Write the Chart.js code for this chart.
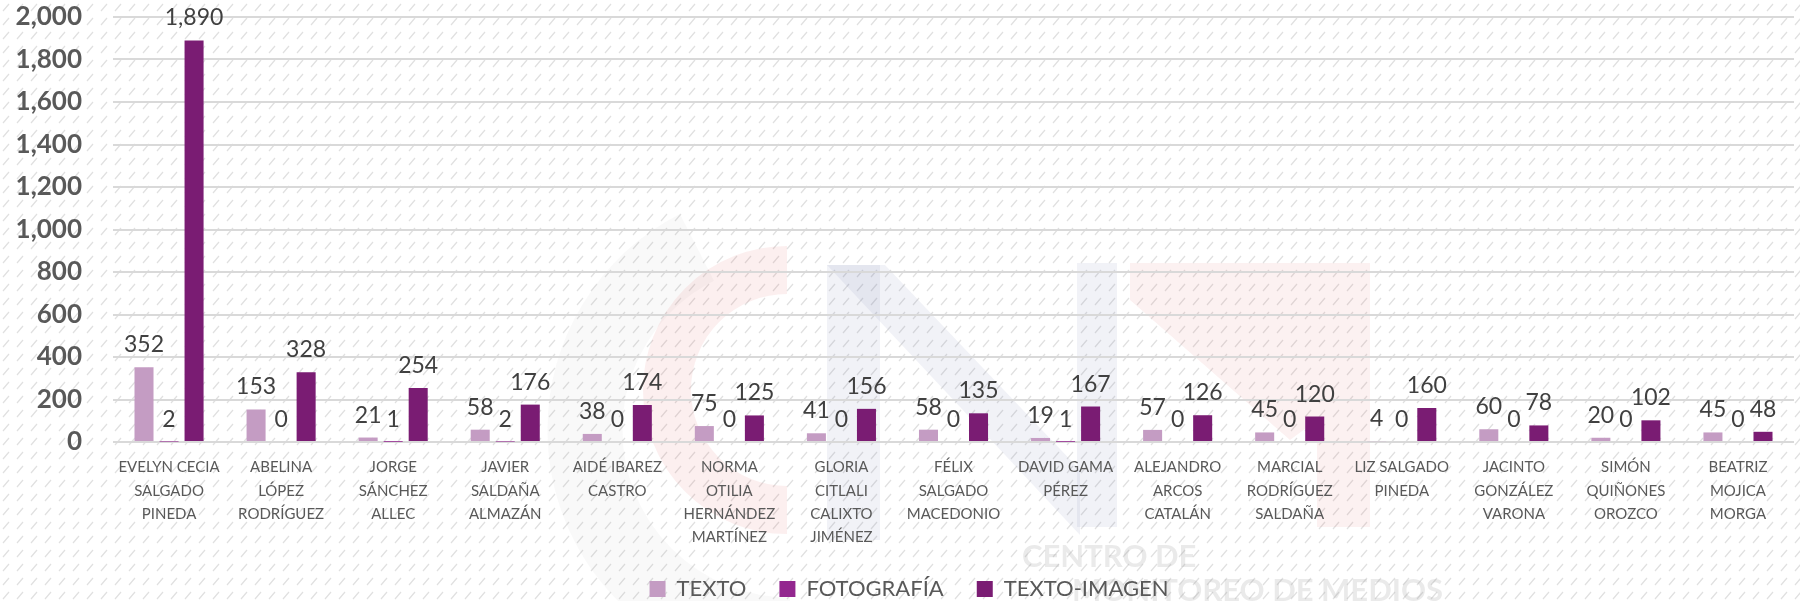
<!DOCTYPE html>
<html>
<head>
<meta charset="utf-8">
<script src="https://cdn.jsdelivr.net/npm/chart.js@4.4.1/dist/chart.umd.min.js"></script>
<style>
html,body{margin:0;padding:0;background:#fff;}
#wrap{width:1800px;height:601px;position:relative;}
</style>
</head>
<body>
<div id="wrap"><canvas id="c" width="1800" height="601"></canvas></div>
<script>
const categories = [
  ["EVELYN CECIA","SALGADO","PINEDA"],
  ["ABELINA","LÓPEZ","RODRÍGUEZ"],
  ["JORGE","SÁNCHEZ","ALLEC"],
  ["JAVIER","SALDAÑA","ALMAZÁN"],
  ["AIDÉ IBAREZ","CASTRO"],
  ["NORMA","OTILIA","HERNÁNDEZ","MARTÍNEZ"],
  ["GLORIA","CITLALI","CALIXTO","JIMÉNEZ"],
  ["FÉLIX","SALGADO","MACEDONIO"],
  ["DAVID GAMA","PÉREZ"],
  ["ALEJANDRO","ARCOS","CATALÁN"],
  ["MARCIAL","RODRÍGUEZ","SALDAÑA"],
  ["LIZ SALGADO","PINEDA"],
  ["JACINTO","GONZÁLEZ","VARONA"],
  ["SIMÓN","QUIÑONES","OROZCO"],
  ["BEATRIZ","MOJICA","MORGA"]
];
const seriesNames = ["TEXTO","FOTOGRAFÍA","TEXTO-IMAGEN"];
const texto = [352,153,21,58,38,75,41,58,19,57,45,4,60,20,45];
const fotografia = [2,0,1,2,0,0,0,0,1,0,0,0,0,0,0];
const textoImagen = [1890,328,254,176,174,125,156,135,167,126,120,160,78,102,48];
const yTicks = [0,200,400,600,800,1000,1200,1400,1600,1800,2000];
const watermarkLines = ["CENTRO DE","MONITOREO DE MEDIOS"];

const colors = ["#C49CC3","#93278F","#7A1C73"];
const FONT = "Lato, 'Open Sans', sans-serif";

function makeHatch(){
  const t = document.createElement('canvas');
  t.width = 14; t.height = 14;
  const g = t.getContext('2d');
  g.fillStyle = '#ffffff'; g.fillRect(0,0,14,14);
  g.strokeStyle = '#e0e0e0'; g.lineWidth = 1.2;
  g.beginPath(); g.moveTo(3,11); g.lineTo(9,4); g.stroke();
  return t;
}

function poly(ctx, pts){
  ctx.beginPath(); ctx.moveTo(pts[0][0],pts[0][1]);
  for (let i=1;i<pts.length;i++) ctx.lineTo(pts[i][0],pts[i][1]);
  ctx.closePath(); ctx.fill();
}

const bgPlugin = {
  id:'bg',
  afterLayout(chart){
    const x = chart.scales.x;
    x.bottom = chart.height; x.height = x.bottom - x.top;
    const lg = chart.legend;
    if (lg) { lg.top += 9; lg.bottom += 9; lg.left += 12; lg.right += 12; }
  },
  beforeDraw(chart){
    const ctx = chart.ctx;
    ctx.save();
    ctx.fillStyle = ctx.createPattern(makeHatch(),'repeat');
    ctx.fillRect(0,0,chart.width,chart.height);
    // faint watermark logo
    ctx.lineWidth = 75;
    ctx.strokeStyle = 'rgba(130,130,130,0.05)';
    ctx.beginPath(); ctx.arc(790,430,205,Math.PI*0.5,Math.PI*1.35); ctx.stroke();
    ctx.lineWidth = 48;
    ctx.strokeStyle = 'rgba(220,80,80,0.09)';
    ctx.beginPath(); ctx.arc(787,390,120,Math.PI*0.5,Math.PI*1.5); ctx.stroke();
    ctx.fillStyle = 'rgba(70,80,150,0.075)';
    poly(ctx, [[827,265],[880,265],[880,540],[827,540]]);
    poly(ctx, [[827,265],[885,265],[1080,470],[1080,535]]);
    poly(ctx, [[1077,263],[1117,263],[1117,527],[1077,527]]);
    ctx.fillStyle = 'rgba(220,70,70,0.075)';
    poly(ctx, [[1130,263],[1370,263],[1370,527],[1317,527],[1317,420],[1290,440],[1130,300]]);
    ctx.fillStyle = 'rgba(150,150,150,0.2)';
    ctx.font = "bold 31px " + FONT;
    ctx.textBaseline = 'alphabetic';
    ctx.textAlign = 'left';
    ctx.fillText(watermarkLines[0], 1022, 567);
    ctx.textAlign = 'right';
    ctx.fillText(watermarkLines[1], 1443, 601);
    ctx.restore();
  }
};

const labelPlugin = {
  id:'vals',
  afterDatasetsDraw(chart){
    const ctx = chart.ctx;
    ctx.save();
    ctx.font = "23px " + FONT;
    ctx.fillStyle = '#404040';
    ctx.textAlign = 'center';
    ctx.textBaseline = 'alphabetic';
    chart.data.datasets.forEach((ds,i)=>{
      const meta = chart.getDatasetMeta(i);
      meta.data.forEach((bar,j)=>{
        const v = ds.data[j];
        ctx.fillText(v.toLocaleString('en-US'), bar.x, bar.y - 15);
      });
    });
    ctx.restore();
  }
};

new Chart(document.getElementById('c'), {
  type:'bar',
  data:{
    labels: categories,
    datasets:[
      {label:seriesNames[0], data:texto, backgroundColor:colors[0]},
      {label:seriesNames[1], data:fotografia, backgroundColor:colors[1]},
      {label:seriesNames[2], data:textoImagen, backgroundColor:colors[2]}
    ]
  },
  options:{
    responsive:false,
    animation:false,
    devicePixelRatio:1,
    layout:{padding:{top:17,right:6,left:0,bottom:0}},
    datasets:{bar:{categoryPercentage:0.67, barPercentage:0.76}},
    plugins:{
      legend:{
        position:'bottom',
        labels:{
          boxWidth:16, boxHeight:16, padding:33,
          color:'#595959',
          font:{family:FONT, size:22}
        }
      },
      tooltip:{enabled:false}
    },
    scales:{
      x:{
        grid:{display:false},
        border:{display:false},
        ticks:{
          color:'#595959', autoSkip:false, maxRotation:0, padding:6,
          font:{family:FONT, size:15, lineHeight:1.55}
        },
        afterFit(s){ s.height = 94; }
      },
      y:{
        min:0, max:2000,
        afterBuildTicks(s){ s.ticks = yTicks.map(v=>({value:v})); },
        grid:{color:'#D9D9D9', lineWidth:2, drawTicks:false},
        border:{display:false},
        ticks:{
          color:'#595959', padding:31,
          font:{family:FONT, size:26, weight:'bold'},
          callback:(v)=>Number(v).toLocaleString('en-US')
        },
        afterFit(s){ s.width = 113; s.paddingTop = 0; s.paddingBottom = 0; }
      }
    }
  },
  plugins:[bgPlugin, labelPlugin]
});
</script>
</body>
</html>
